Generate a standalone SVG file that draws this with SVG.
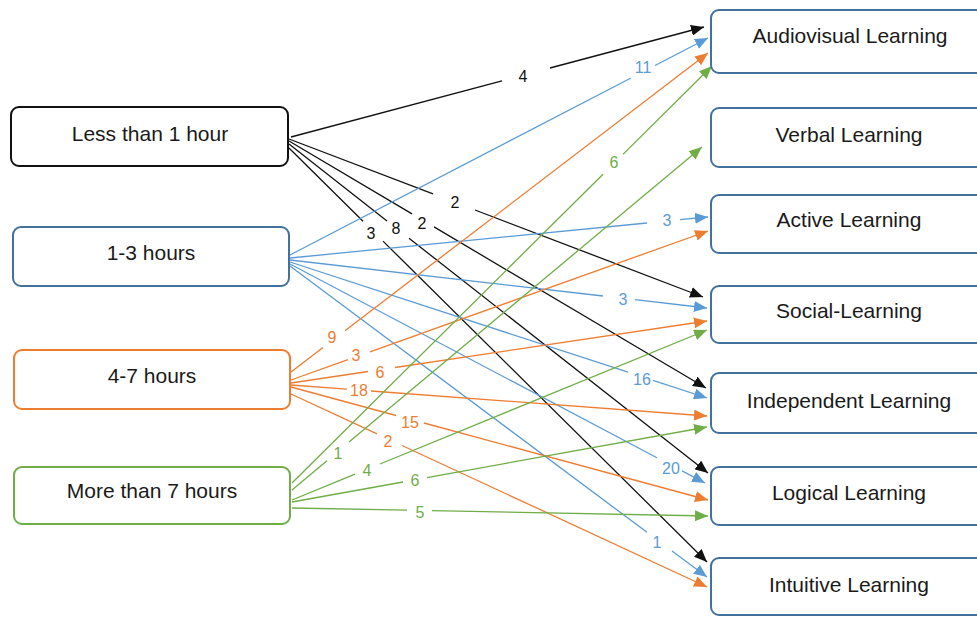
<svg xmlns="http://www.w3.org/2000/svg" width="977" height="617" viewBox="0 0 977 617">
<style>
.node rect{fill:#fff;stroke-width:2}
.node text{font-family:"Liberation Sans",Arial,sans-serif;font-size:21px;fill:#1a1a1a;text-anchor:middle}
.c{fill:none;stroke-width:1.3}
.k{stroke:#111}.b{stroke:#5B9BD5}.o{stroke:#ED7D31}.g{stroke:#70AD47}
.lbl text{font-family:"Liberation Sans",Arial,sans-serif;font-size:16px;text-anchor:middle}
.tk{fill:#111}.tb{fill:#5B9BD5}.to{fill:#ED7D31}.tg{fill:#70AD47}
</style>
<defs>
<marker id="ak" markerUnits="userSpaceOnUse" markerWidth="13" markerHeight="11" viewBox="0 0 13 11" refX="13" refY="5.5" orient="auto"><path d="M0,0L13,5.5L0,11Z" fill="#111"/></marker>
<marker id="ab" markerUnits="userSpaceOnUse" markerWidth="13" markerHeight="11" viewBox="0 0 13 11" refX="13" refY="5.5" orient="auto"><path d="M0,0L13,5.5L0,11Z" fill="#5B9BD5"/></marker>
<marker id="ao" markerUnits="userSpaceOnUse" markerWidth="13" markerHeight="11" viewBox="0 0 13 11" refX="13" refY="5.5" orient="auto"><path d="M0,0L13,5.5L0,11Z" fill="#ED7D31"/></marker>
<marker id="ag" markerUnits="userSpaceOnUse" markerWidth="13" markerHeight="11" viewBox="0 0 13 11" refX="13" refY="5.5" orient="auto"><path d="M0,0L13,5.5L0,11Z" fill="#70AD47"/></marker>
</defs>
<rect width="977" height="617" fill="#fff"/>
<g id="connectors">
<path class="c k" marker-end="url(#ak)" d="M291,137L502,80.8M550,68L704,27"/>
<path class="c k" marker-end="url(#ak)" d="M289,139L433,193.9M475,210L703,297"/>
<path class="c k" marker-end="url(#ak)" d="M289,141L412,213.9M434,226.9L706,388"/>
<path class="c k" marker-end="url(#ak)" d="M289,144L387,221M409,238.2L708,473"/>
<path class="c k" marker-end="url(#ak)" d="M289,148L363,221.3M383,241.1L707,562"/>
<path class="c b" marker-end="url(#ab)" d="M290,255L631,78M655,65.5L708,38"/>
<path class="c b" marker-end="url(#ab)" d="M290,258L647,223M680,219.7L708,217"/>
<path class="c b" marker-end="url(#ab)" d="M290,260L603,296M635,299.7L707,308"/>
<path class="c b" marker-end="url(#ab)" d="M290,262L628,372.2M653,380.4L707,398"/>
<path class="c b" marker-end="url(#ab)" d="M290,264L657,457.7M682,470.9L705,483"/>
<path class="c b" marker-end="url(#ab)" d="M290,266L647,532.3M672,550.9L707,577"/>
<path class="c o" marker-end="url(#ao)" d="M291,372L323,347.5M345,330.7L708,53"/>
<path class="c o" marker-end="url(#ao)" d="M291,380L348,359.6M370,351.8L708,231"/>
<path class="c o" marker-end="url(#ao)" d="M291,383L368,371.5M395,367.5L707,321"/>
<path class="c o" marker-end="url(#ao)" d="M291,385L347,389.2M371,391L707,416"/>
<path class="c o" marker-end="url(#ao)" d="M291,387L396,415.5M424,423L708,500"/>
<path class="c o" marker-end="url(#ao)" d="M291,394L377,433.9M402,445.5L707,587"/>
<path class="c g" marker-end="url(#ag)" d="M292,483L603,174.2M623,154.4L712,66"/>
<path class="c g" marker-end="url(#ag)" d="M292,490L327,460.7M349,442L702,147"/>
<path class="c g" marker-end="url(#ag)" d="M292,500L355,474.2M380,464L707,330"/>
<path class="c g" marker-end="url(#ag)" d="M292,502L403,482M427,477.6L707,427"/>
<path class="c g" marker-end="url(#ag)" d="M292,508L407,510.2M432,510.7L708,516"/>
</g>
<g id="labels" class="lbl">
<text class="tk" x="523" y="82">4</text>
<text class="tk" x="455" y="208">2</text>
<text class="tk" x="422" y="229">2</text>
<text class="tk" x="396" y="234">8</text>
<text class="tk" x="371" y="239">3</text>
<text class="tb" x="643" y="73">11</text>
<text class="tb" x="667" y="226">3</text>
<text class="tb" x="623" y="305">3</text>
<text class="tb" x="642" y="385">16</text>
<text class="tb" x="671" y="474">20</text>
<text class="tb" x="657" y="548">1</text>
<text class="to" x="332" y="343">9</text>
<text class="to" x="356" y="361">3</text>
<text class="to" x="380" y="378">6</text>
<text class="to" x="359" y="396">18</text>
<text class="to" x="410" y="428">15</text>
<text class="to" x="388" y="447">2</text>
<text class="tg" x="614" y="168">6</text>
<text class="tg" x="338" y="459">1</text>
<text class="tg" x="367" y="476">4</text>
<text class="tg" x="415" y="486">6</text>
<text class="tg" x="420" y="518">5</text>
</g>
<g id="n-less1" class="node"><rect x="11" y="107" width="277" height="59" rx="8" stroke="#111"/><text x="150" y="141">Less than 1 hour</text></g>
<g id="n-1-3" class="node"><rect x="13" y="227" width="276" height="59" rx="8" stroke="#41719C"/><text x="151" y="260">1-3 hours</text></g>
<g id="n-4-7" class="node"><rect x="14" y="350" width="276" height="59" rx="8" stroke="#ED7D31"/><text x="152" y="383">4-7 hours</text></g>
<g id="n-more7" class="node"><rect x="14" y="467" width="276" height="57" rx="8" stroke="#70AD47"/><text x="152" y="498">More than 7 hours</text></g>
<g id="n-audiovisual" class="node"><rect x="711" y="10" width="290" height="63" rx="8" stroke="#41719C"/><text x="850" y="43">Audiovisual Learning</text></g>
<g id="n-verbal" class="node"><rect x="711" y="108" width="290" height="59" rx="8" stroke="#41719C"/><text x="849" y="142">Verbal Learning</text></g>
<g id="n-active" class="node"><rect x="711" y="195" width="290" height="58" rx="8" stroke="#41719C"/><text x="849" y="227">Active Learning</text></g>
<g id="n-social" class="node"><rect x="711" y="286" width="290" height="57" rx="8" stroke="#41719C"/><text x="849" y="318">Social-Learning</text></g>
<g id="n-independent" class="node"><rect x="711" y="373" width="290" height="60" rx="8" stroke="#41719C"/><text x="849" y="408">Independent Learning</text></g>
<g id="n-logical" class="node"><rect x="711" y="467" width="290" height="58" rx="8" stroke="#41719C"/><text x="849" y="500">Logical Learning</text></g>
<g id="n-intuitive" class="node"><rect x="711" y="558" width="290" height="57" rx="8" stroke="#41719C"/><text x="849" y="592">Intuitive Learning</text></g>
</svg>
